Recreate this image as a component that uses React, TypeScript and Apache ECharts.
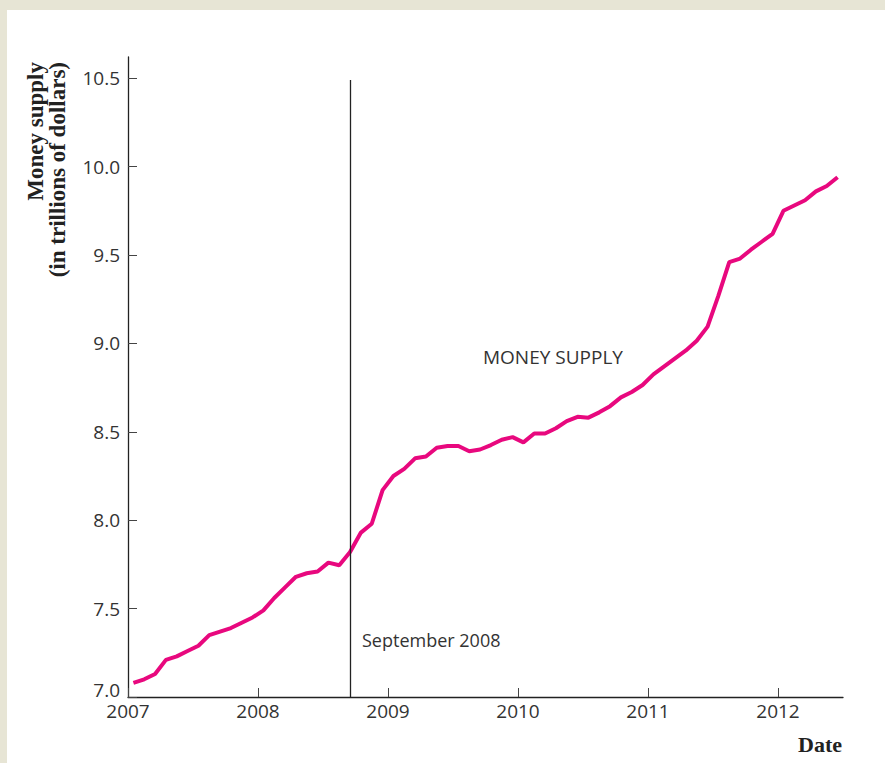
import React, { useEffect, useRef } from "react";
import * as echarts from "echarts";

const startYear = 2007;
const moneySupply = [
  7.08, 7.1, 7.13, 7.21, 7.23, 7.26, 7.29, 7.35, 7.37, 7.39, 7.42, 7.45,
  7.49, 7.56, 7.62, 7.68, 7.7, 7.71, 7.76, 7.745, 7.82, 7.93, 7.98, 8.17,
  8.25, 8.29, 8.35, 8.36, 8.41, 8.42, 8.42, 8.39, 8.4, 8.425, 8.455, 8.47,
  8.44, 8.49, 8.49, 8.52, 8.56, 8.585, 8.58, 8.61, 8.645, 8.695, 8.725, 8.765,
  8.825, 8.87, 8.915, 8.96, 9.015, 9.095, 9.27, 9.46, 9.48, 9.53, 9.575, 9.62,
  9.75, 9.78, 9.81, 9.86, 9.89, 9.94,
];
const yearTicks = [2007, 2008, 2009, 2010, 2011, 2012];
const valueTicks = [7.0, 7.5, 8.0, 8.5, 9.0, 9.5, 10.0, 10.5];
const eventDate = 2008 + 8.5 / 12; // September 2008
const eventLabel = "September 2008";
const seriesLabel = "MONEY SUPPLY";
const yTitle1 = "Money supply";
const yTitle2 = "(in trillions of dollars)";
const xTitle = "Date";

export default function App() {
  const ref = useRef<HTMLDivElement>(null);
  useEffect(() => {
    if (!ref.current) return;
    const chart = echarts.init(ref.current, null, { renderer: "svg" });
    const data = moneySupply.map((v, i) => [startYear + (i + 0.5) / 12, v]);
    const sansFont = "'Open Sans', 'Noto Sans', sans-serif";
    const serifFont = "'Liberation Serif', 'DejaVu Serif', serif";
    chart.setOption({
      animation: false,
      backgroundColor: "#ffffff",
      grid: { left: 128, right: 42, top: 57, bottom: 66, containLabel: false },
      xAxis: {
        type: "value",
        min: 2007,
        max: 2012.5,
        interval: 1,
        splitLine: { show: false },
        axisLine: { show: true, lineStyle: { color: "#222", width: 1.3 } },
        axisTick: {
          show: true,
          inside: true,
          length: 9,
          lineStyle: { color: "#444", width: 1 },
          customValues: yearTicks,
        },
        axisLabel: {
          color: "#333",
          fontFamily: sansFont,
          fontSize: 19,
          lineHeight: 16,
          margin: 6,
          customValues: yearTicks,
          formatter: (v: number) => String(v),
        },
      },
      yAxis: {
        type: "value",
        min: 7,
        max: 10.62,
        splitLine: { show: false },
        axisLine: { show: true, lineStyle: { color: "#222", width: 1.3 } },
        axisTick: {
          show: true,
          inside: true,
          length: 9,
          lineStyle: { color: "#444", width: 1 },
          customValues: valueTicks,
        },
        axisLabel: {
          color: "#333",
          fontFamily: sansFont,
          fontSize: 19,
          lineHeight: 16,
          margin: 8,
          customValues: valueTicks,
          formatter: (v: number) =>
            v === 7 ? "{low|" + v.toFixed(1) + "}" : v.toFixed(1),
          rich: {
            low: {
              color: "#333",
              fontFamily: sansFont,
              fontSize: 19,
              lineHeight: 14,
              padding: [0, 0, 14, 0],
            },
          },
        },
      },
      series: [
        {
          type: "line",
          data,
          symbol: "none",
          lineStyle: { color: "#e8087e", width: 4 },
          z: 3,
          markLine: {
            silent: true,
            symbol: ["none", "none"],
            label: { show: false },
            lineStyle: { color: "#222", width: 1.3, type: "solid" },
            data: [
              [
                { coord: [eventDate, 7] },
                { coord: [eventDate, 10.49] },
              ],
            ],
          },
        },
      ],
      graphic: [
        {
          type: "rect",
          left: 0,
          top: 0,
          shape: { width: 885, height: 10 },
          style: { fill: "#e7e5d5" },
          silent: true,
        },
        {
          type: "rect",
          left: 0,
          top: 0,
          shape: { width: 7, height: 763 },
          style: { fill: "#e7e5d5" },
          silent: true,
        },
        {
          type: "text",
          x: 24,
          y: 62,
          rotation: Math.PI / 2,
          style: {
            text: yTitle1,
            fill: "#222",
            font: `bold 23px ${serifFont}`,
            align: "right",
            verticalAlign: "top",
          },
        },
        {
          type: "text",
          x: 46,
          y: 62,
          rotation: Math.PI / 2,
          style: {
            text: yTitle2,
            fill: "#222",
            font: `bold 23px ${serifFont}`,
            align: "right",
            verticalAlign: "top",
          },
        },
        {
          type: "text",
          x: 842,
          y: 744,
          style: {
            text: xTitle,
            fill: "#222",
            font: `bold 22px ${serifFont}`,
            align: "right",
            verticalAlign: "middle",
          },
        },
        {
          type: "text",
          x: 362,
          y: 640,
          style: {
            text: eventLabel,
            fill: "#333",
            font: `18px ${sansFont}`,
            align: "left",
            verticalAlign: "middle",
          },
        },
        {
          type: "text",
          x: 483,
          y: 357,
          style: {
            text: seriesLabel,
            fill: "#333",
            font: `19px ${sansFont}`,
            align: "left",
            verticalAlign: "middle",
          },
        },
      ],
    });
    return () => chart.dispose();
  }, []);
  return (
    <div
      ref={ref}
      style={{ width: 885, height: 763, position: "absolute", left: 0, top: 0 }}
    />
  );
}
